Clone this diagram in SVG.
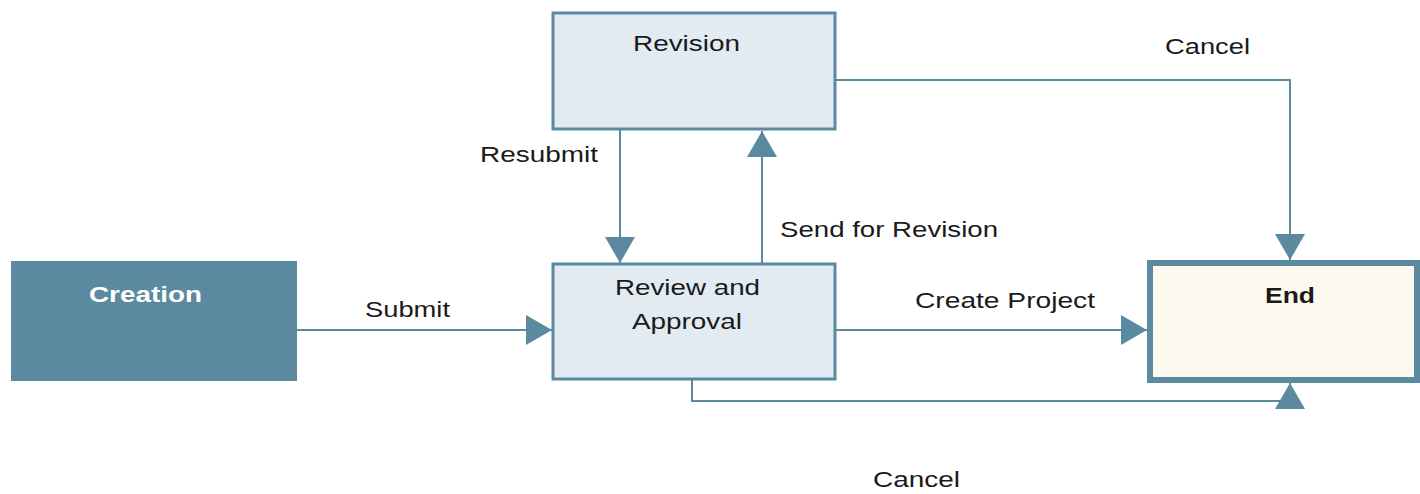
<svg xmlns="http://www.w3.org/2000/svg" width="1420" height="494" viewBox="0 0 1420 494">
<style>
text{font-family:"Liberation Sans",Arial,sans-serif;font-size:22px;fill:#1a1a1a}
.box{fill:#e2eaf2;stroke:#5b8aa0;stroke-width:3}
.lbl{font-weight:bold}
.conn{fill:none;stroke:#5b8aa0;stroke-width:2}
</style>
<defs>
<marker id="arr" markerUnits="userSpaceOnUse" viewBox="0 0 26 30" refX="26" refY="15" markerWidth="26" markerHeight="30" orient="auto">
<path d="M0,0 L26,15 L0,30 z" fill="#5b8aa0"/>
</marker>
</defs>
<rect width="1420" height="494" fill="#ffffff"/>
<g id="connectors">
<path class="conn" d="M835,80 H1290 V260" marker-end="url(#arr)"/>
<path class="conn" d="M620,130 V263" marker-end="url(#arr)"/>
<path class="conn" d="M762,263 V131" marker-end="url(#arr)"/>
<path class="conn" d="M297,330 H552" marker-end="url(#arr)"/>
<path class="conn" d="M835,330 H1147" marker-end="url(#arr)"/>
<path class="conn" d="M692,379 V401 H1290 V383" marker-end="url(#arr)"/>
<text x="1165" y="54" textLength="85" lengthAdjust="spacingAndGlyphs">Cancel</text>
<text x="480" y="162" textLength="118" lengthAdjust="spacingAndGlyphs">Resubmit</text>
<text x="780" y="237" textLength="218" lengthAdjust="spacingAndGlyphs">Send for Revision</text>
<text x="365" y="317" textLength="85" lengthAdjust="spacingAndGlyphs">Submit</text>
<text x="915" y="308" textLength="180" lengthAdjust="spacingAndGlyphs">Create Project</text>
<text x="873" y="487" textLength="87" lengthAdjust="spacingAndGlyphs">Cancel</text>
</g>
<g id="revision">
<rect class="box" x="553" y="13" width="282" height="116"/>
<text x="633" y="51" textLength="107" lengthAdjust="spacingAndGlyphs">Revision</text>
</g>
<g id="creation">
<rect x="11" y="261" width="286" height="120" fill="#5b8aa0"/>
<text class="lbl" x="89" y="302" textLength="113" lengthAdjust="spacingAndGlyphs" style="fill:#ffffff">Creation</text>
</g>
<g id="review">
<rect class="box" x="553" y="264" width="282" height="115"/>
<text x="615" y="295" textLength="145" lengthAdjust="spacingAndGlyphs">Review and</text>
<text x="632" y="329" textLength="110" lengthAdjust="spacingAndGlyphs">Approval</text>
</g>
<g id="end">
<rect x="1150" y="263" width="267" height="117" fill="#fdf9ee" stroke="#5b8aa0" stroke-width="6"/>
<text class="lbl" x="1265" y="303" textLength="50" lengthAdjust="spacingAndGlyphs">End</text>
</g>
</svg>
